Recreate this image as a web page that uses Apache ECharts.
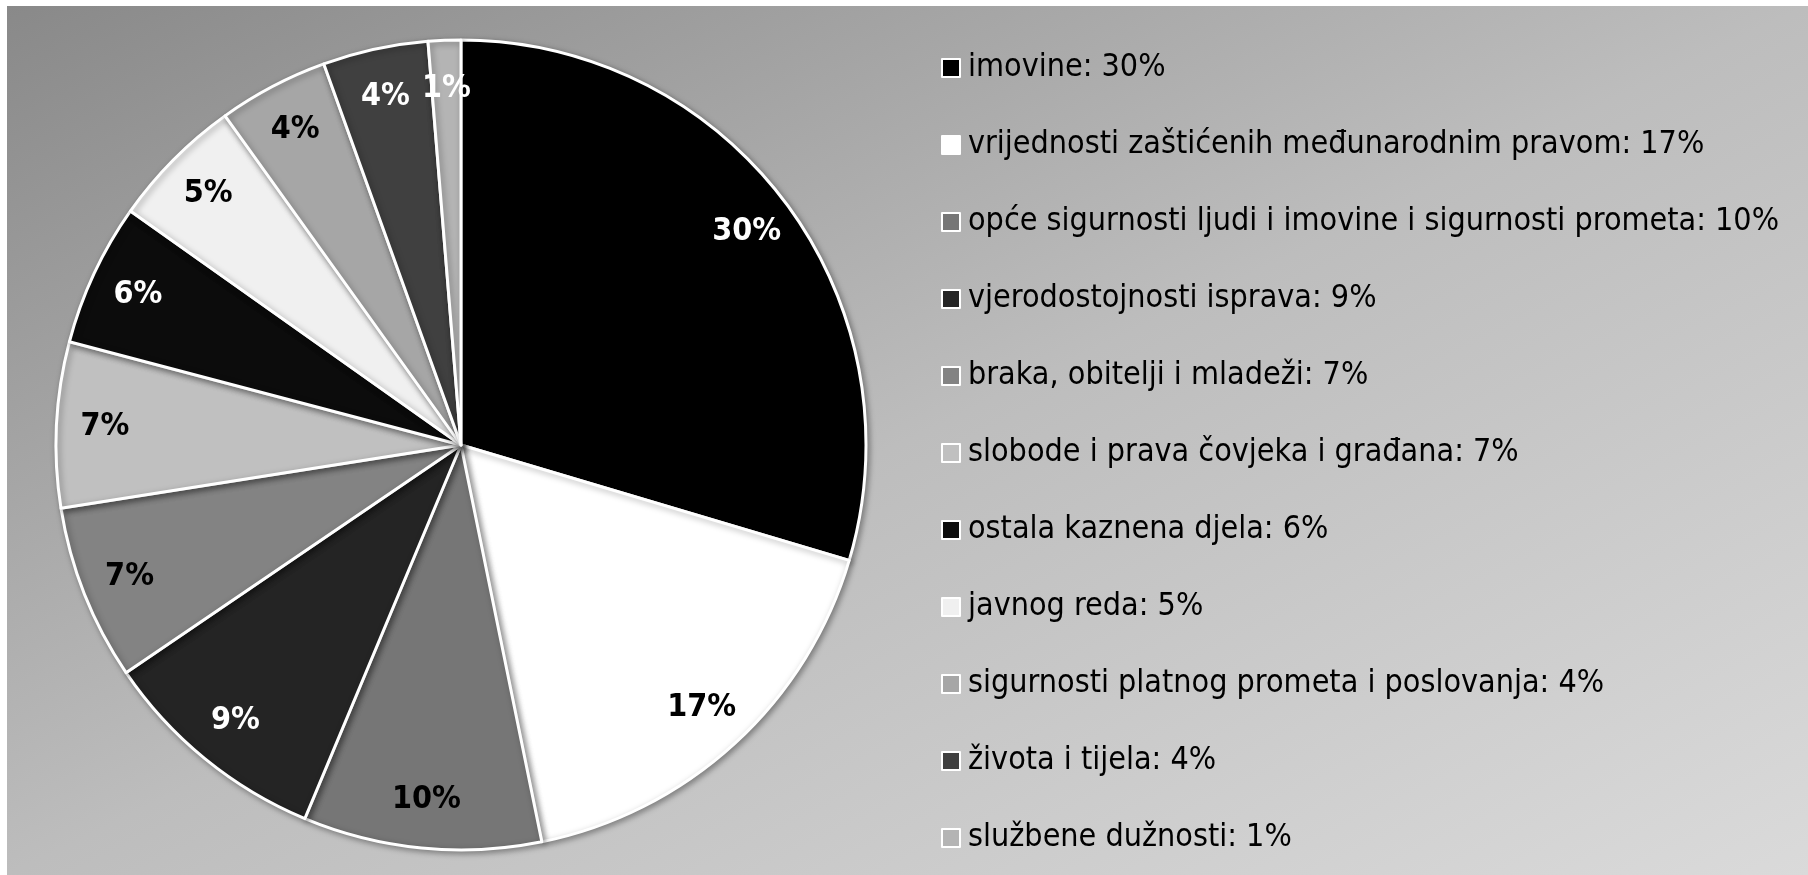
<!DOCTYPE html>
<html>
<head>
<meta charset="utf-8">
<script src="https://cdn.jsdelivr.net/npm/echarts@6/dist/echarts.min.js"></script>
<style>
  html, body { margin: 0; padding: 0; background: #fff; }
  #chart {
    position: absolute; left: 7px; top: 6px; width: 1801px; height: 869px;
    background: linear-gradient(to bottom right, #898989 0%, #bdbdbd 50%, #dadada 100%);
  }
</style>
</head>
<body>
<div id="chart"></div>
<script>
// categories and shares (%)
const categories = [
  'imovine',
  'vrijednosti zaštićenih međunarodnim pravom',
  'opće sigurnosti ljudi i imovine i sigurnosti prometa',
  'vjerodostojnosti isprava',
  'braka, obitelji i mladeži',
  'slobode i prava čovjeka i građana',
  'ostala kaznena djela',
  'javnog reda',
  'sigurnosti platnog prometa i poslovanja',
  'života i tijela',
  'službene dužnosti'
]
const shares = [29.6, 17.2, 9.5, 9.2, 7.0, 6.6, 5.7, 5.3, 4.4, 4.2, 1.3]
const sliceColors = ['#000000', '#ffffff', '#767676', '#242424', '#838383', '#c0c0c0',
  '#0c0c0c', '#f0f0f0', '#a6a6a6', '#404040', '#b4b4b4']
const labelColors = ['#fff', '#000', '#000', '#fff', '#000', '#000',
  '#fff', '#000', '#000', '#fff', '#fff']

const font = '"Liberation Sans Narrow", "DejaVu Sans Condensed", sans-serif'
const total = shares.reduce((a, b) => a + b, 0)
const pct = v => Math.round(v / total * 1000) / 10 >= 0 ? Math.round(v / total * 100) : 0
const shareOf = {}
categories.forEach((c, i) => { shareOf[c] = pct(shares[i]) })

let myChart = echarts.init(document.getElementById('chart'))

const option = {
  backgroundColor: 'transparent',
  animation: false,
  legend: {
    orient: 'vertical',
    left: 929,
    top: 41,
    itemGap: 45,
    itemWidth: 18,
    itemHeight: 18,
    icon: 'rect',
    itemStyle: { borderColor: '#fff', borderWidth: 2 },
    data: categories,
    formatter: name => name + ': ' + shareOf[name] + '%',
    textStyle: { fontFamily: font, fontSize: 32, color: '#000', lineHeight: 32, padding: [0, 0, 0, 3] }
  },
  series: [
    {
      type: 'pie',
      center: [454, 439],
      radius: [0, 405],
      startAngle: 90,
      clockwise: true,
      avoidLabelOverlap: false,
      label: { show: false },
      labelLine: { show: false },
      itemStyle: {
        borderColor: '#fff', borderWidth: 3,
        shadowBlur: 6, shadowColor: 'rgba(0,0,0,0.35)', shadowOffsetX: 2, shadowOffsetY: 2
      },
      data: categories.map((c, i) => ({ name: c, value: shares[i], itemStyle: { color: sliceColors[i] } }))
    },
    {
      // label ring, drawn on top of the main pie
      type: 'pie',
      silent: true,
      center: [454, 439],
      radius: [302, 405],
      startAngle: 90,
      clockwise: true,
      avoidLabelOverlap: false,
      itemStyle: { color: 'transparent', borderWidth: 0 },
      labelLine: { show: false },
      data: categories.map((c, i) => ({
        name: c, value: shares[i],
        label: {
          show: true, position: 'inside', formatter: pct(shares[i]) + '%',
          color: labelColors[i], fontFamily: font, fontWeight: 'bold', fontSize: 32
        }
      }))
    }
  ]
}
myChart.setOption(option)
</script>
</body>
</html>
